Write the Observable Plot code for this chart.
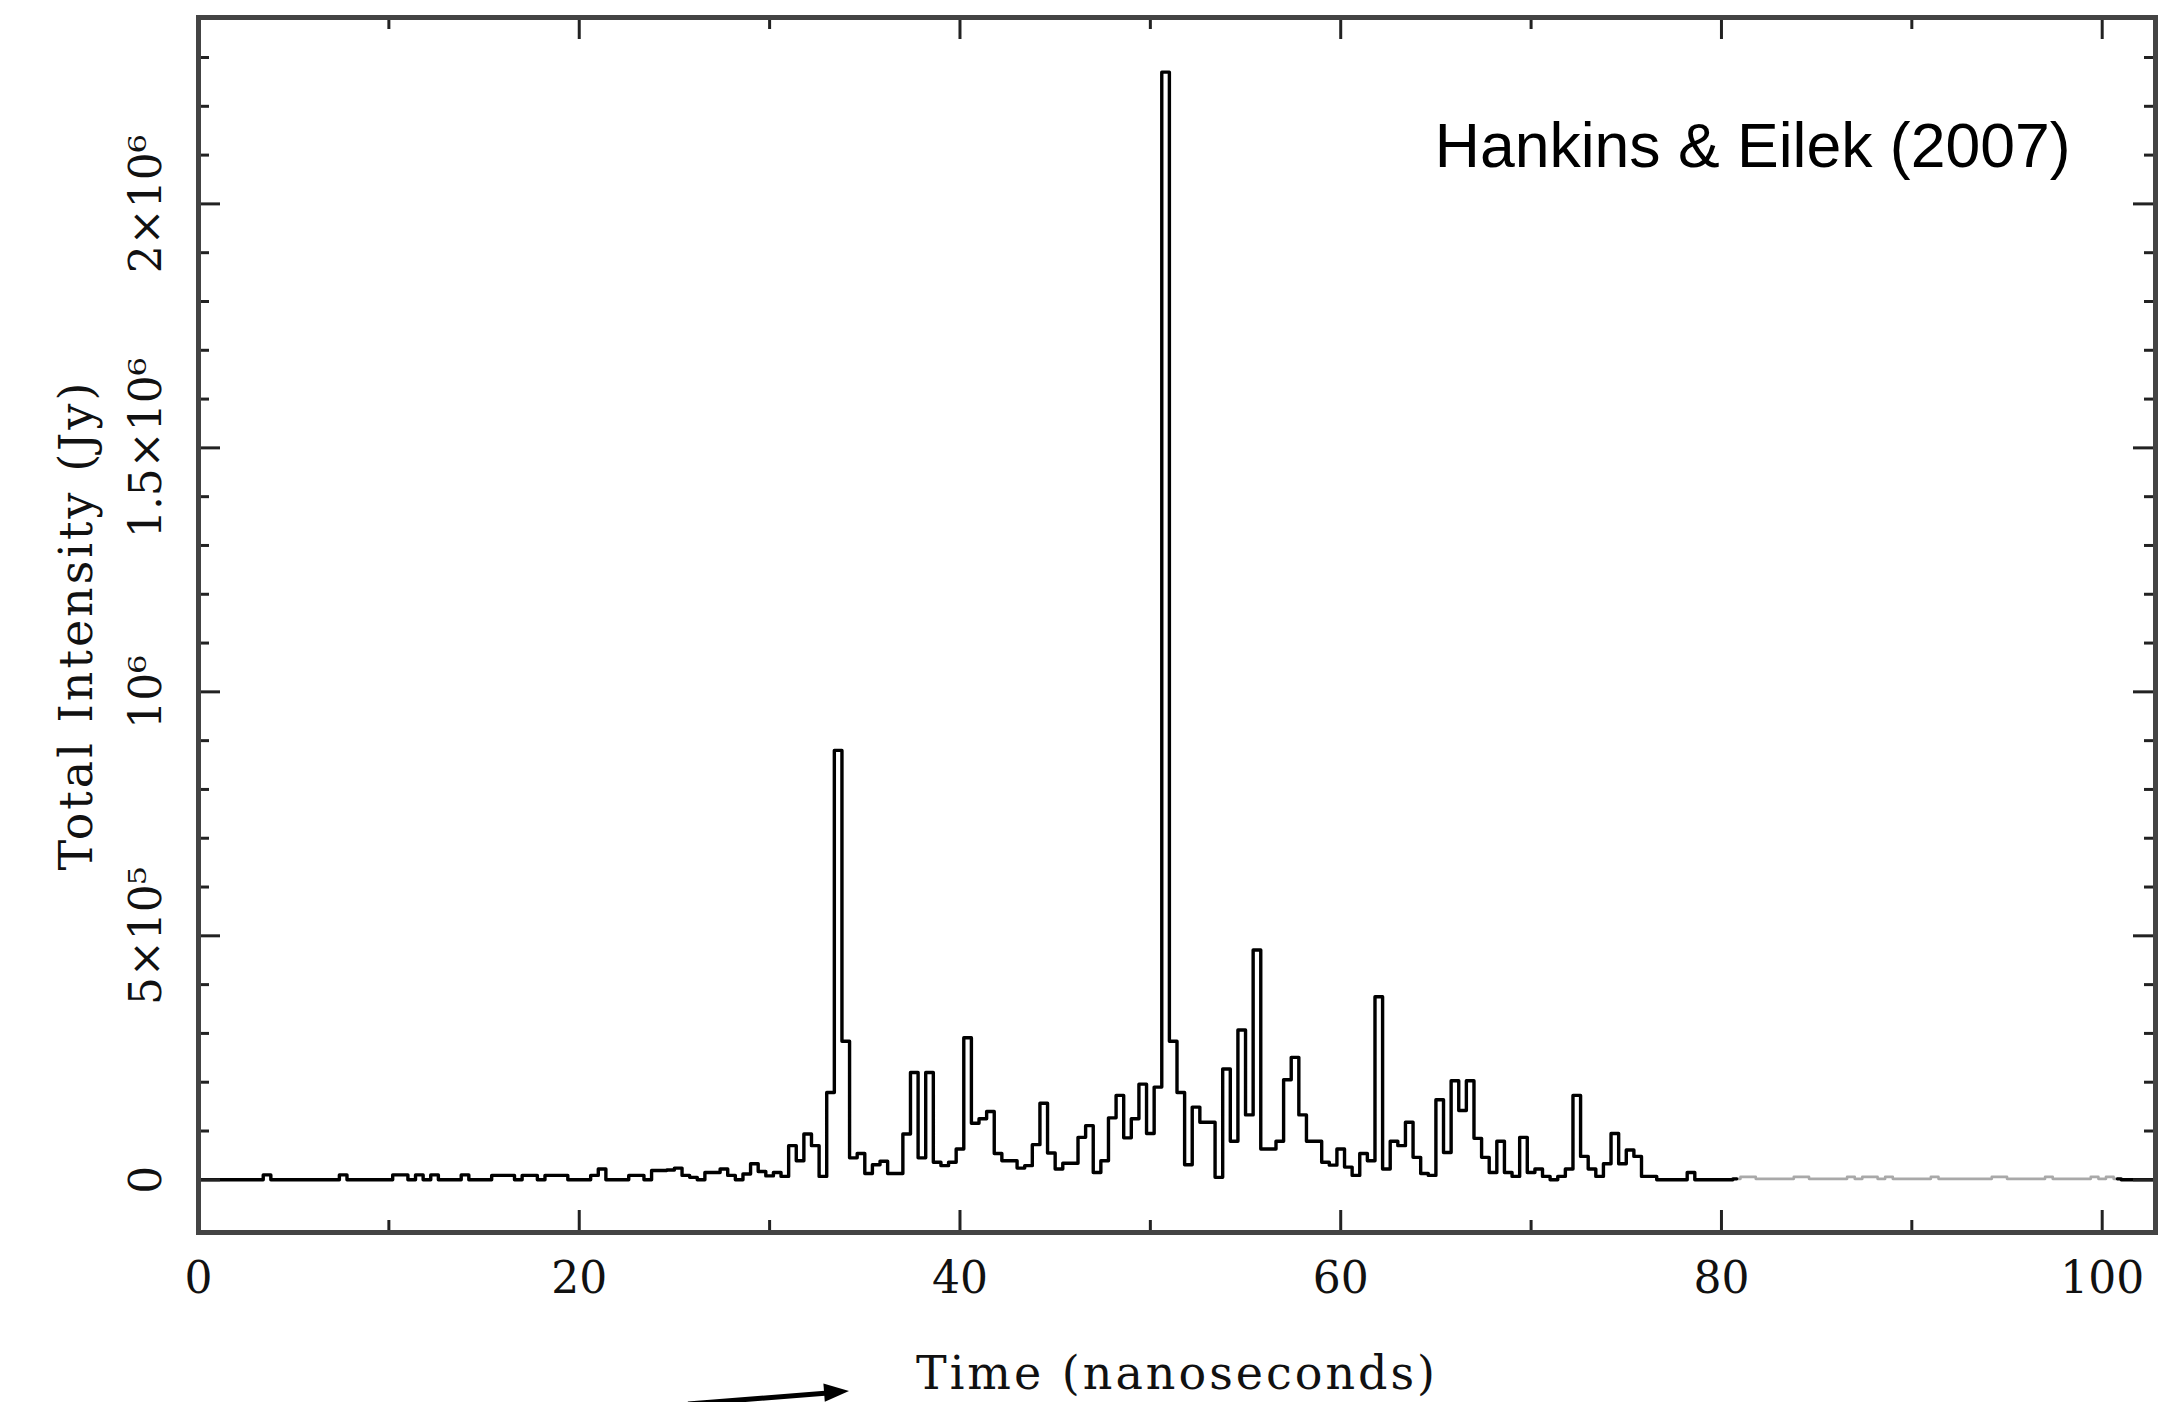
<!DOCTYPE html>
<html><head><meta charset="utf-8">
<script src="https://cdn.jsdelivr.net/npm/d3@7"></script>
<script src="https://cdn.jsdelivr.net/npm/@observablehq/plot@0.6"></script>
<style>
html,body{margin:0;padding:0;background:#fff;}
#wrap{position:relative;width:2183px;height:1402px;overflow:hidden;background:#fff;}
#wrap svg{display:block;}
</style></head><body>
<div id="wrap"></div>
<script>
// Sample spacing (ns) of the total-intensity time series
const binWidth = 0.4;
// Total intensity per 0.4 ns sample, in units of 10^6 Jy (sample k at t = 0.4*k ns)
const intensity = [
  0,0,0,0,0,0,0,0,0,0.010,
  0,0,0,0,0,0,0,0,0,0.010,
  0,0,0,0,0,0,0.010,0.010,0,0.010,
  0,0.010,0,0,0,0.010,0,0,0,0.009,
  0.009,0.009,0,0.009,0.009,0,0.009,0.009,0.009,0,
  0,0,0.009,0.022,0,0,0,0.009,0.009,0,
  0.019,0.019,0.020,0.024,0.009,0.005,0,0.015,0.015,0.022,
  0.009,0,0.012,0.033,0.017,0.008,0.015,0.007,0.070,0.039,
  0.094,0.070,0.007,0.179,0.880,0.284,0.045,0.054,0.013,0.031,
  0.038,0.013,0.013,0.094,0.220,0.045,0.220,0.036,0.029,0.036,
  0.063,0.291,0.116,0.125,0.140,0.054,0.039,0.039,0.024,0.029,
  0.072,0.157,0.055,0.022,0.034,0.034,0.087,0.111,0.015,0.039,
  0.127,0.173,0.086,0.125,0.196,0.095,0.190,2.270,0.284,0.179,
  0.031,0.149,0.118,0.118,0.005,0.227,0.079,0.307,0.133,0.471,
  0.063,0.063,0.079,0.205,0.251,0.133,0.079,0.079,0.036,0.030,
  0.063,0.026,0.009,0.054,0.039,0.375,0.022,0.079,0.070,0.118,
  0.046,0.013,0.009,0.164,0.056,0.203,0.142,0.203,0.085,0.046,
  0.015,0.079,0.015,0.007,0.087,0.015,0.022,0.007,0,0.007,
  0.022,0.173,0.048,0.022,0.007,0.033,0.095,0.033,0.061,0.048,
  0.007,0.007,0,0,0,0,0.015,0,0,0,
  0,0,0.002,0.006,0.006,0.002,0.002,0.002,0.002,0.002,
  0.006,0.006,0.002,0.002,0.002,0.002,0.002,0.006,0.002,0.006,
  0.006,0.002,0.006,0.002,0.002,0.002,0.002,0.002,0.006,0.002,
  0.002,0.002,0.002,0.002,0.002,0.002,0.006,0.006,0.002,0.002,
  0.002,0.002,0.002,0.006,0.002,0.002,0.002,0.002,0.002,0.006,
  0.002,0.006,0.002,0,0,0,0,0
];
// Samples drawn in the faint grey trace
const faintStart = 202, faintEnd = 252;

const xMajorTicks = [0, 20, 40, 60, 80, 100];
const xMinorTicks = [10, 30, 50, 70, 90];
const yMajorTicks = [0, 0.5, 1, 1.5, 2];
const yMajorLabels = ["0", "5×10⁵", "10⁶", "1.5×10⁶", "2×10⁶"];
const yMinorTicks = [0.1,0.2,0.3,0.4,0.6,0.7,0.8,0.9,1.1,1.2,1.3,1.4,1.6,1.7,1.8,1.9,2.1,2.2,2.3];
const xLabel = "Time (nanoseconds)";
const yLabel = "Total Intensity (Jy)";
const credit = "Hankins & Eilek (2007)";

const W = 2183, H = 1402, mL = 198, mR = 28, mT = 17, mB = 170;
const fw = W - mL - mR, fh = H - mT - mB;
const serif = "'DejaVu Serif', serif";
const sans = "'Liberation Sans', Arial, Helvetica, sans-serif";

const series = intensity.map((v, k) => ({k, t: k * binWidth, v}));
const seg1 = series.filter(d => d.k <= faintStart);
const seg2 = series.filter(d => d.k >= faintStart && d.k <= faintEnd);
const seg3 = series.filter(d => d.k >= faintEnd);

const tickStyle = {stroke: "#222", strokeWidth: 3};

const chart = Plot.plot({
  width: W, height: H,
  marginLeft: mL, marginRight: mR, marginTop: mT, marginBottom: mB,
  x: {domain: [0, 102.8], axis: null},
  y: {domain: [-0.108, 2.382], axis: null},
  style: {background: "white", overflow: "visible"},
  marks: [
    Plot.line(seg2, {x: "t", y: "v", curve: "step", stroke: "#a9a9a9", strokeWidth: 2.6}),
    Plot.line(seg1, {x: "t", y: "v", curve: "step", stroke: "#000", strokeWidth: 3.4}),
    Plot.line(seg3, {x: "t", y: "v", curve: "step", stroke: "#000", strokeWidth: 3.4}),
    Plot.tickX(xMajorTicks, {x: d => d, insetTop: fh - 22, ...tickStyle}),
    Plot.tickX(xMajorTicks, {x: d => d, insetBottom: fh - 22, ...tickStyle}),
    Plot.tickX(xMinorTicks, {x: d => d, insetTop: fh - 12, ...tickStyle}),
    Plot.tickX(xMinorTicks, {x: d => d, insetBottom: fh - 12, ...tickStyle}),
    Plot.tickY(yMajorTicks, {y: d => d, insetRight: fw - 22, ...tickStyle}),
    Plot.tickY(yMajorTicks, {y: d => d, insetLeft: fw - 22, ...tickStyle}),
    Plot.tickY(yMinorTicks, {y: d => d, insetRight: fw - 11, ...tickStyle}),
    Plot.tickY(yMinorTicks, {y: d => d, insetLeft: fw - 11, ...tickStyle}),
    Plot.frame({stroke: "#444", strokeWidth: 5}),
    Plot.text(xMajorTicks, {x: d => d, text: d => String(d), frameAnchor: "bottom", dy: 46,
      lineAnchor: "middle", fontSize: 44, fontFamily: serif, fill: "#111"}),
    Plot.text(yMajorTicks, {y: d => d, text: (d, i) => yMajorLabels[i], frameAnchor: "left", dx: -52,
      rotate: -90, textAnchor: "middle", lineAnchor: "middle", fontSize: 44, fontFamily: serif, fill: "#111"}),
    Plot.text([xLabel], {text: d => d, frameAnchor: "bottom", dy: 142, lineAnchor: "middle",
      fontSize: 46, fontFamily: serif, fill: "#111"}),
    Plot.text([yLabel], {text: d => d, frameAnchor: "left", dx: -121, rotate: -90,
      textAnchor: "middle", lineAnchor: "middle", fontSize: 46, fontFamily: serif, fill: "#111"}),
    Plot.text([credit], {text: d => d, frameAnchor: "top-right", dx: -85, dy: 129,
      textAnchor: "end", lineAnchor: "middle", fontSize: 62.5, fontFamily: sans, fill: "#000"})
  ]
});
// wider letter spacing for the axis titles, as in the original typeface
chart.querySelectorAll("text").forEach(el => {
  if (el.textContent === xLabel || el.textContent === yLabel) el.style.letterSpacing = "3px";
});
const wrap = document.getElementById("wrap");
wrap.appendChild(chart);

// decorative pointer arrow at the bottom edge of the figure
const ns = "http://www.w3.org/2000/svg";
const ov = document.createElementNS(ns, "svg");
ov.setAttribute("width", W); ov.setAttribute("height", H);
ov.setAttribute("style", "position:absolute;left:0;top:0;pointer-events:none");
ov.innerHTML = '<line x1="688" y1="1404" x2="828" y2="1393" stroke="#000" stroke-width="5"/>' +
  '<polygon points="849,1391 823.4,1383.6 824.8,1401.8" fill="#000"/>';
wrap.appendChild(ov);
</script>
</body></html>
